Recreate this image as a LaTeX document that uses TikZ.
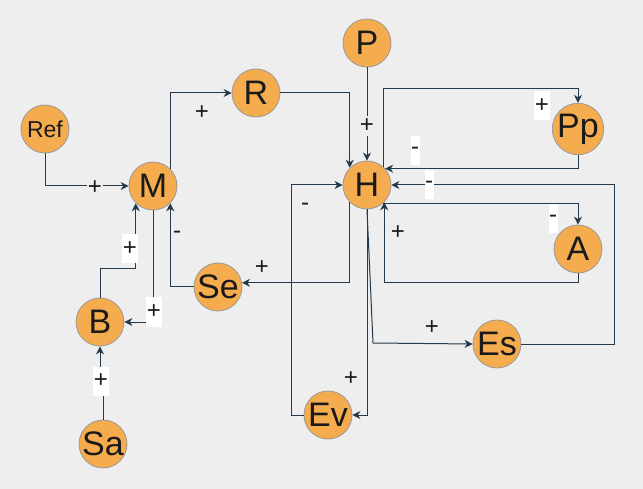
\documentclass[tikz,border=0pt]{standalone}
\usepackage{fontspec}
\setmainfont{Liberation Sans}
\usetikzlibrary{arrows.meta}
\definecolor{bgc}{HTML}{EEEEEE}
\definecolor{nodefill}{HTML}{F5AC4E}
\definecolor{nodeline}{HTML}{999999}
\definecolor{edgec}{HTML}{24394C}
\definecolor{txt}{HTML}{1A1A1A}
\begin{document}
\begin{tikzpicture}[x=1pt,y=-1pt,
  var/.style={circle,fill=nodefill,draw=nodeline,line width=0.8pt,minimum size=48pt,inner sep=0pt,text=txt,font=\fontsize{34}{34}\selectfont},
  small/.style={var,font=\fontsize{23}{23}\selectfont},
  conn/.style={draw=edgec,line width=1pt,-{Stealth[length=8pt,width=8pt,inset=2.5pt]}},
  lab/.style={font=\fontsize{24}{24}\selectfont,text=txt,inner sep=0pt},
  wlab/.style={lab,fill=white,inner xsep=0.5pt,minimum height=29pt},
  blab/.style={lab,fill=bgc,inner xsep=1pt,minimum height=20pt}
]
\path[fill=bgc] (0,0) rectangle (643,489);
% nodes
\node[small] (Ref) at (45,129) {Ref};
\node[var] (M) at (153,186) {M};
\node[var] (R) at (256,93) {R};
\node[var] (P) at (367,43) {P};
\node[var] (H) at (367,185) {H};
\node[var] (Pp) at (578,129) {Pp};
\node[var] (A) at (578,249) {A};
\node[var] (Se) at (218,287) {Se};
\node[var] (B) at (100,322) {B};
\node[var] (Sa) at (103,444) {Sa};
\node[var] (Ev) at (328,415) {Ev};
\node[var] (Es) at (497,344) {Es};
\coordinate (esbend) at (373,343);
% edges
\draw[conn] (Ref.south) |- (M.west);
\draw[conn] (M.45) |- (R.west);
\draw[conn] (R.east) -| (H.135);
\draw[conn] (P.south) -- (H.north);
\draw[conn] (H.48) -- (H.48 |- 0,89) -| (Pp.north);
\draw[conn] (Pp.south) |- (H.42);
\draw[conn] (Es.east) -- (Es.east -| 614,0) |- (H.east);
\draw[conn] (H.-48) -| (A.north);
\draw[conn] (A.south) -- (A.south |- 0,283) -| (H.-45);
\draw[conn] (H.-135) |- (Se.10);
\draw[conn] (Se.west) -| (M.-45);
\draw[conn] (H.south) |- (Ev.east);
\draw[conn] (Ev.west) -- (Ev.west -| 291,0) |- (H.west);
\draw[conn] (H.south) -- (esbend) -- (Es.west);
\draw[conn] (M.south) |- (B.east);
\draw[conn] (B.north) -- (B.north |- 0,269) -| (M.-135);
\draw[conn] (Sa.north) -- (Sa.north |- 0,381) -| (B.south);
% labels
\node[blab] at (95,188) {+};
\node[lab] at (202,113) {+};
\node[blab] at (367,126) {+};
\node[wlab] at (542,106) {+};
\node[wlab] at (415,151) {-};
\node[wlab] at (429,185) {-};
\node[wlab] at (553,219) {-};
\node[lab] at (398,233) {+};
\node[lab] at (432,328) {+};
\node[lab] at (262,268) {+};
\node[lab] at (177,235) {-};
\node[wlab] at (130,249) {+};
\node[wlab] at (154,312) {+};
\node[wlab] at (101,381) {+};
\node[lab] at (305,207) {-};
\node[lab] at (351,379) {+};
\end{tikzpicture}
\end{document}
